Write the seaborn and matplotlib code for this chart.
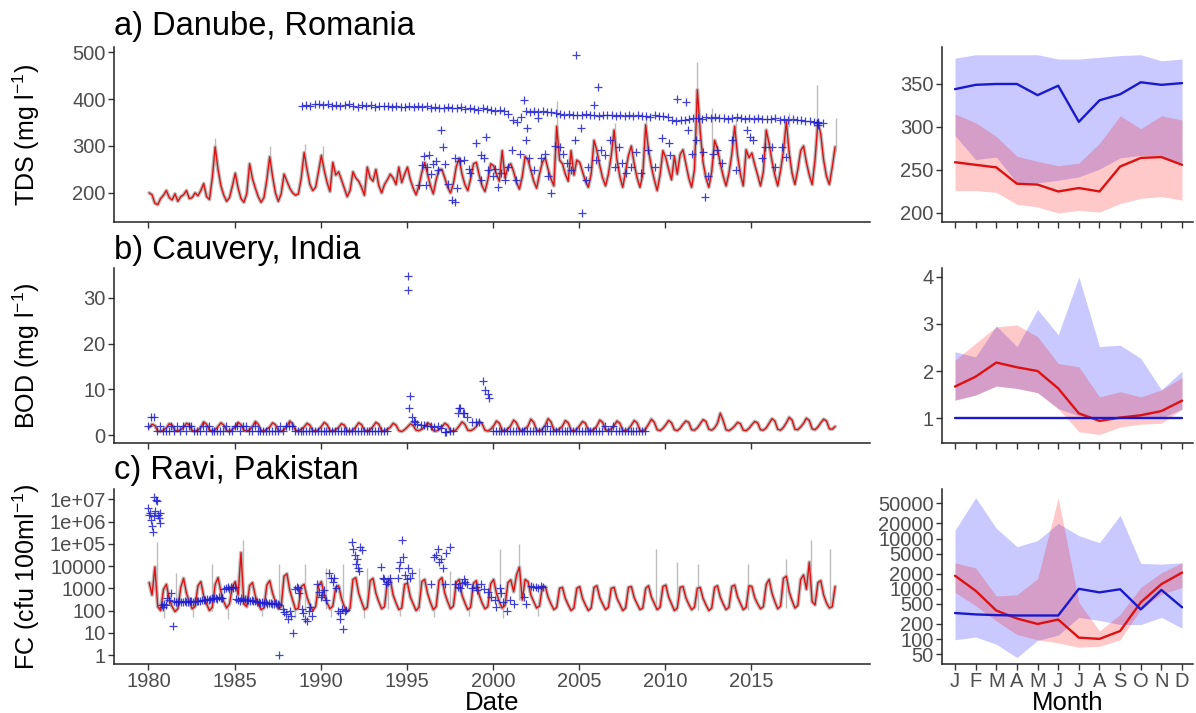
import numpy as np
import matplotlib
matplotlib.use("Agg")
import matplotlib.pyplot as plt
import seaborn as sns

# ------------------------------------------------------------------ data
YEARS = list(range(1980, 2020))
MONTH_SLOTS = [1, 3, 5, 7, 9, 11]          # six modelled values per year

# a) Danube TDS, modelled (mg/l)
tds_model = [
    200, 196, 178, 175, 188, 195,  205, 190, 185, 198, 182, 192,
    196, 205, 188, 190, 200, 194,  205, 220, 192, 186, 232, 298,
    250, 215, 195, 182, 190, 215,  242, 210, 188, 180, 198, 262,
    230, 210, 192, 180, 190, 228,  277, 235, 200, 182, 198, 240,
    225, 210, 200, 195, 198, 232,  286, 250, 218, 205, 212, 245,
    280, 248, 222, 203, 265, 238,  245, 228, 210, 192, 205, 245,
    232, 225, 212, 195, 255, 232,  225, 250, 216, 200, 218, 228,
    240, 232, 218, 255, 222, 240,  255, 228, 210, 196, 215, 244,
    265, 240, 215, 198, 228, 250,  250, 232, 212, 200, 220, 256,
    274, 240, 218, 205, 230, 262,  265, 238, 215, 203, 228, 262,
    258, 240, 225, 290, 232, 255,  262, 245, 222, 208, 235, 278,
    270, 248, 225, 210, 240, 265,  275, 250, 230, 215, 342, 270,
    262, 240, 225, 290, 238, 270,  265, 245, 225, 212, 240, 312,
    290, 258, 232, 215, 240, 280,  334, 270, 235, 212, 246, 280,
    300, 262, 232, 212, 240, 345,  290, 255, 228, 205, 238, 290,
    275, 250, 228, 278, 240, 282,  292, 262, 232, 212, 250, 420,
    330, 265, 232, 212, 245, 312,  295, 262, 236, 215, 242, 282,
    342, 280, 240, 215, 292, 275,  285, 260, 238, 215, 245, 334,
    305, 268, 238, 215, 248, 290,  352, 285, 242, 218, 250, 290,
    300, 265, 238, 218, 270, 352,  325, 270, 235, 218, 255, 298,
]
tds_spike_dates = [1983.85, 1987.05, 1989.1, 1990.15, 2003.7, 2007.1, 2008.9,
                   2011.88, 2012.7, 2014.1, 2017.2, 2018.8, 2019.9]
tds_spike_lo = [290, 270, 280, 275, 330, 325, 335, 410, 300, 330, 340, 345, 290]
tds_spike_hi = [318, 300, 305, 300, 395, 350, 365, 478, 380, 360, 370, 430, 360]

# observed TDS: regular (quarterly) series from 1988.9
tds_obs_start = 1988.9
tds_obs_regular = [
    386, 388, 385, 389,  390, 387, 389, 386,  388, 385, 387, 389,
    386, 384, 387, 385,  387, 384, 386, 385,  385, 383, 386, 384,
    384, 386, 383, 385,  383, 385, 382, 384,  382, 380, 383, 381,
    381, 383, 379, 380,  379, 377, 380, 378,  377, 375, 376, 374,
    368, 356, 352, 362,  374, 372, 375, 373,  374, 372, 373, 371,
    369, 367, 368, 366,  367, 365, 368, 366,  366, 364, 367, 365,
    366, 364, 365, 363,  365, 363, 366, 364,  364, 362, 365, 363,
    363, 361, 356, 354,  356, 355, 357, 359,  360, 358, 361, 359,
    361, 359, 360, 358,  360, 361, 359, 358,  360, 358, 359, 357,
    358, 357, 359, 356,  357, 355, 358, 356,  355, 353, 354, 352,
    351, 349,
]
# observed TDS: irregular samples
tds_obs_dates = [
    1995.7, 1995.9, 1996.0, 1996.1, 1996.2, 1996.3, 1996.5, 1996.7, 1996.8, 1997.0,
    1997.1, 1997.4, 1997.6, 1997.8, 1997.9, 1997.8, 1998.1, 1998.6, 1998.7, 1999.0,
    1999.3, 1999.5, 1999.6, 1999.3, 1999.7, 2000.1, 2000.3, 2000.5, 2000.7, 2000.9,
    2001.1, 2001.35, 2001.6, 2001.8, 2001.9, 2002.0, 2002.1, 2002.4, 2002.6, 2002.8,
    2003.0, 2003.2, 2003.4, 2003.9, 2004.1, 2004.3, 2004.55, 2004.75, 2004.85, 2005.1,
    2005.2, 2005.4, 2005.5, 2005.9, 2006.1, 2006.3, 2006.5, 2006.8, 2007.1, 2007.3,
    2007.5, 2007.75, 2008.0, 2008.3, 2008.6, 2009.0, 2009.4, 2009.8, 2010.2, 2010.3,
    2010.7, 2011.2, 2011.35, 2011.55, 2011.8, 2012.2, 2012.3, 2012.5, 2012.8, 2013.0,
    2013.3, 2013.9, 2014.1, 2014.75, 2014.95, 2015.1, 2015.6, 2015.8, 2016.2, 2016.4,
    2016.8, 2017.0, 2018.8, 2018.9, 1996.4, 1997.2, 1998.3, 2000.0, 2003.6, 2006.0,
]
tds_obs_vals = [
    216, 260, 278, 217, 256, 280, 262, 267, 249, 334,
    298, 220, 185, 274, 210, 181, 267, 252, 242, 306,
    280, 274, 320, 228, 249, 252, 213, 242, 228, 256,
    291, 228, 284, 397, 313, 338, 274, 249, 359, 274,
    284, 235, 199, 298, 284, 263, 249, 313, 494, 338,
    157, 228, 256, 387, 426, 291, 280, 313, 256, 298,
    263, 242, 256, 288, 242, 291, 256, 316, 306, 280,
    401, 394, 334, 284, 313, 288, 192, 235, 284, 291,
    263, 313, 249, 334, 320, 313, 274, 298, 298, 256,
    298, 277, 348, 345, 240, 262, 270, 235, 300, 270,
]

# b) Cauvery BOD, modelled (mg/l)
bod_model = [
    1.7, 2.4, 2.1, 0.9, 0.8, 1.1,  1.6, 2.5, 2.2, 1.0, 0.9, 1.2,
    1.8, 2.6, 2.3, 1.0, 0.9, 1.1,  1.7, 2.9, 2.4, 1.1, 0.9, 1.2,
    1.9, 2.7, 2.2, 1.0, 0.8, 1.3,  1.8, 2.8, 2.3, 1.1, 0.9, 1.2,
    1.9, 3.0, 2.4, 1.0, 0.9, 1.3,  1.8, 2.7, 2.3, 1.0, 0.8, 1.2,
    2.0, 3.1, 2.5, 1.1, 0.9, 1.3,  1.8, 2.6, 2.2, 1.0, 0.9, 1.2,
    1.9, 2.8, 2.3, 1.0, 0.9, 1.2,  1.7, 2.5, 2.2, 1.0, 0.8, 1.1,
    1.8, 2.7, 2.3, 1.1, 0.9, 1.2,  1.9, 2.8, 2.4, 1.0, 0.9, 1.3,
    1.7, 2.6, 2.2, 1.0, 0.8, 1.2,  1.8, 2.5, 2.1, 1.1, 1.0, 1.3,
    1.9, 2.7, 2.3, 1.0, 0.9, 1.2,  1.8, 2.6, 2.2, 1.0, 0.9, 1.2,
    2.0, 2.9, 2.4, 1.1, 1.0, 1.3,  1.9, 3.0, 2.5, 1.1, 0.9, 1.3,
    2.0, 3.1, 2.6, 1.1, 1.0, 1.4,  2.1, 3.3, 2.7, 1.2, 1.0, 1.4,
    2.0, 3.5, 2.8, 1.1, 1.0, 1.3,  2.2, 3.6, 2.9, 1.2, 1.0, 1.4,
    2.0, 3.2, 2.7, 1.1, 0.9, 1.3,  2.1, 3.0, 2.6, 1.1, 1.0, 1.3,
    2.0, 3.3, 2.8, 1.2, 1.0, 1.4,  2.1, 3.1, 2.6, 1.1, 1.0, 1.3,
    2.2, 3.2, 2.7, 1.1, 0.9, 1.4,  2.4, 3.5, 2.8, 1.2, 1.0, 1.5,
    2.3, 3.2, 2.7, 1.2, 1.0, 1.5,  2.4, 3.1, 2.8, 1.2, 1.1, 1.6,
    2.5, 3.4, 3.0, 1.3, 1.1, 1.6,  2.6, 4.8, 3.2, 1.2, 1.0, 1.4,
    2.0, 2.8, 2.5, 1.1, 1.0, 1.5,  2.3, 3.0, 2.7, 1.2, 1.1, 1.6,
    2.6, 3.6, 3.1, 1.3, 1.1, 1.7,  2.7, 3.9, 3.3, 1.3, 1.2, 1.8,
    2.6, 3.7, 3.2, 1.4, 1.2, 1.8,  2.7, 3.5, 3.1, 1.4, 1.3, 1.9,
]
# observed BOD, regular (6 per year) 1980-1993 and 2000-2008
bod_obs_early = [
    2, 4, 4, 1, 2, 1,  1, 1, 2, 1, 2, 1,  2, 1, 2, 2, 1, 1,  1, 2, 1, 2, 1, 1,
    1, 1, 1, 2, 1, 1,  2, 2, 1, 2, 2, 1,  1, 2, 1, 1, 1, 1,  1, 1, 1, 1, 2, 1,
    2, 2, 2, 1, 1, 1,  1, 1, 1, 1, 1, 1,  1, 1, 1, 1, 1, 1,  1, 1, 1, 1, 1, 1,
    1, 1, 1, 1, 1, 1,  1, 1, 1, 1, 1, 1,
]
bod_obs_late = [
    1, 1, 1, 1, 1, 1,  1, 1, 1, 1, 1, 1,  1, 1, 1, 1, 1, 1,  1, 2, 1, 1, 1, 1,
    1, 1, 1, 1, 1, 1,  1, 1, 1, 1, 1, 1,  1, 1, 1, 2, 1, 1,  2, 1, 1, 1, 1, 1,
    1, 1, 1, 1, 1, 1,
]
bod_obs_dates = [1995.05, 1995.1, 1995.2, 1995.15, 1995.3, 1995.4, 1995.5, 1995.6, 1995.8,
                 1996.0, 1996.2, 1996.4, 1996.6, 1996.8, 1997.0, 1997.2, 1997.3, 1997.5,
                 1997.7, 1997.95, 1998.05, 1998.1, 1998.25, 1998.35, 1998.5, 1998.8, 1999.0,
                 1999.2, 1999.45, 1999.53, 1999.7, 1999.8]
bod_obs_vals = [34.8, 31.8, 8.5, 5.9, 4.0, 3.2, 2.9, 2.5, 2.3,
                2.2, 2.0, 2.1, 1.9, 2.0, 1.5, 0.7, 0.6, 0.9,
                1.0, 4.8, 5.9, 5.9, 4.8, 4.8, 4.0, 2.9, 2.9,
                2.8, 11.8, 9.8, 9.1, 8.1]

# c) Ravi FC, modelled (cfu/100ml)
fc_model = [
    1800, 500, 9000, 150, 100, 900,   1500, 350, 150, 90, 120, 1100,
    2800, 600, 250, 120, 150, 1300,   2000, 450, 200, 100, 140, 1500,
    3000, 700, 250, 130, 200, 1200,   2000, 500, 40000, 200, 150, 1300,
    1800, 450, 200, 110, 130, 1400,   2200, 600, 250, 120, 150, 3500,
    4500, 800, 300, 110, 130, 1200,   1500, 400, 180, 100, 150, 1300,
    2000, 500, 220, 120, 160, 1100,   1300, 350, 150, 90, 130, 2500,
    3000, 600, 250, 110, 140, 2200,   2800, 600, 250, 120, 150, 2000,
    2500, 500, 220, 110, 130, 1500,   1700, 400, 200, 100, 140, 2000,
    2500, 600, 230, 110, 150, 2200,   3000, 600, 250, 120, 160, 1800,
    2500, 500, 220, 110, 140, 1700,   2200, 500, 220, 120, 150, 1600,
    2500, 600, 250, 130, 170, 1800,   2400, 700, 4000, 9000, 300, 2500,
    2000, 500, 250, 130, 160, 1200,   1200, 400, 200, 110, 140, 1000,
    1100, 350, 180, 100, 130, 1000,   1200, 350, 180, 100, 130, 1100,
    1300, 380, 200, 110, 140, 1000,   1100, 350, 190, 100, 130, 1100,
    1200, 380, 200, 110, 130, 1000,   1300, 400, 210, 110, 140, 1200,
    1400, 400, 200, 100, 130, 1100,   1200, 380, 190, 110, 140, 1000,
    1100, 350, 180, 100, 130, 1100,   1300, 400, 200, 110, 140, 1200,
    1400, 420, 210, 110, 140, 1300,   1200, 380, 200, 120, 150, 1500,
    2500, 600, 250, 120, 160, 2800,   3500, 700, 280, 130, 170, 2500,
    4000, 900, 15000, 250, 180, 1800,  2200, 500, 220, 130, 150, 1200,
]
fc_spike_dates = [1980.5, 1981.6, 1983.7, 1985.5, 1987.6, 1989.1, 1990.3, 1991.3,
                  1992.7, 1993.9, 1995.7, 1997.5, 2000.4, 2001.5, 2009.5, 2010.7,
                  2011.9, 2014.8, 2017.0, 2018.5, 2019.55]
fc_spike_lo = [150, 90, 100, 200, 120, 100, 120, 90, 110, 120, 100, 120, 130, 300,
               110, 100, 110, 110, 130, 250, 130]
fc_spike_hi = [1.2e5, 5000, 12000, 1.5e5, 12000, 12000, 8000, 12000, 8000, 4000,
               8000, 6000, 6e4, 1e5, 6e4, 15000, 12000, 12000, 20000, 1.5e5, 6e4]
fc_trough_dates = [1980.9, 1982.6, 1984.6, 1986.6, 1988.5, 1990.6, 1992.5, 1994.6,
                   1996.6, 1998.6, 2000.6, 2002.6]
fc_trough_lo = [45, 50, 40, 55, 45, 50, 45, 60, 50, 55, 45, 60]
fc_trough_hi = [150, 150, 130, 140, 130, 150, 140, 150, 140, 150, 150, 150]

# observed FC: regular band 1981.5-1987.5 (step 0.1 yr)
fc_band_start = 1981.5
fc_band = [
    260, 240, 250, 270, 245, 255, 260, 250, 240, 265, 270, 255, 260, 275, 280,
    270, 290, 300, 310, 330, 300, 340, 360, 350, 380, 340, 400, 370, 350,
    900, 1000, 1100, 950, 1200, 1000, 1100,
    320, 300, 280, 350, 300, 330, 290, 310, 280, 300, 260, 270, 250, 240, 230,
    250, 220, 240, 200, 210, 230, 200, 190, 220, 200, 180,
]
fc_obs_dates = [
    1980.0, 1980.05, 1980.1, 1980.15, 1980.2, 1980.25, 1980.3, 1980.35, 1980.4, 1980.45,
    1980.5, 1980.55, 1980.6, 1980.65, 1980.7,
    1980.8, 1980.85, 1980.9, 1981.0, 1981.1, 1981.2, 1981.3, 1981.4,
    1987.6, 1987.8, 1987.9, 1988.0, 1988.1, 1988.2, 1988.3, 1988.4, 1988.5, 1988.6,
    1988.7, 1988.75, 1988.9, 1989.0, 1989.1, 1989.2, 1989.3, 1989.4, 1989.5,
    1989.8, 1989.9, 1990.0, 1990.1, 1990.2, 1990.3, 1990.5, 1990.6, 1990.7, 1990.8, 1990.9,
    1991.0, 1991.1, 1991.15, 1991.25, 1991.3, 1991.4, 1991.5,
    1991.8, 1991.9, 1992.0, 1992.05, 1992.1, 1992.15, 1992.2, 1992.3, 1992.4,
    1993.5, 1993.6, 1993.7, 1993.8, 1993.9, 1994.0,
    1994.5, 1994.55, 1994.6, 1994.7, 1994.8, 1994.9, 1995.0, 1995.1, 1995.2, 1995.3,
    1996.4, 1996.6, 1996.7, 1996.8, 1996.9, 1997.0, 1997.1, 1997.2, 1997.3,
    1997.5, 1997.8, 1998.0, 1998.1, 1998.2, 1998.3, 1998.4, 1998.5,
    1998.8, 1999.0, 1999.1, 1999.3, 1999.5, 1999.7, 1999.9, 2000.1, 2000.2, 2000.4,
    2000.5, 2000.6, 2000.8, 2001.0, 2001.2, 2001.8, 2001.9,
    2002.2, 2002.35, 2002.5, 2002.65, 2002.8, 2002.9,
]
fc_obs_vals = [
    4e6, 2e6, 2.5e6, 1.2e6, 6e5, 3.5e5, 1.8e6, 1.2e7, 3e6, 9e6,
    8e6, 2e6, 1.5e6, 9e5, 2.5e6,
    180, 150, 200, 180, 350, 300, 600, 20,
    1, 120, 90, 70, 40, 100, 60, 10, 900, 1200,
    1000, 600, 120, 80, 40, 35, 100, 150, 60,
    1500, 700, 400, 500, 800, 300, 5000, 3000, 2000, 3000, 1000,
    100, 80, 40, 120, 15, 100, 110,
    1.2e5, 6e4, 3e4, 1.2e4, 2e4, 8000, 6000, 7e4, 5e4,
    9000, 3000, 2500, 1500, 2000, 2800,
    3000, 8000, 1.5e4, 1.5e5, 2.5e4, 4000, 2500, 8000, 3000, 5000,
    1500, 2.5e4, 3e4, 6e4, 1.5e4, 2e4, 8000, 1500, 4e4,
    7e4, 1500, 1200, 1000, 1800, 2500, 2000, 1500,
    1000, 1200, 800, 1500, 900, 700, 400, 300, 150, 1000,
    600, 250, 100, 300, 200, 400, 200,
    1300, 1100, 1200, 1000, 1300, 1100,
]

# monthly climatology (right-hand panels)
months = list(range(1, 13))
month_labels = ["J", "F", "M", "A", "M", "J", "J", "A", "S", "O", "N", "D"]

tds_obs_med = [344, 349, 350, 350, 337, 348, 306, 331, 338, 352, 349, 351]
tds_obs_hi = [380, 384, 384, 384, 384, 379, 379, 381, 383, 384, 377, 379]
tds_obs_lo = [290, 262, 265, 235, 235, 238, 242, 251, 264, 267, 266, 258]
tds_mod_med = [259, 256, 253, 234, 233, 225, 229, 225, 254, 264, 265, 256]
tds_mod_hi = [315, 305, 289, 266, 260, 255, 258, 281, 313, 298, 313, 308]
tds_mod_lo = [226, 226, 224, 210, 207, 200, 203, 201, 211, 217, 219, 215]

bod_obs_med = [1.0, 1.0, 1.0, 1.0, 1.0, 1.0, 1.0, 1.0, 1.0, 1.0, 1.0, 1.0]
bod_obs_hi = [2.41, 2.30, 2.96, 2.52, 3.31, 2.77, 4.00, 2.52, 2.55, 2.27, 1.60, 2.00]
bod_obs_lo = [1.38, 1.49, 1.68, 1.63, 1.54, 1.20, 1.05, 1.00, 1.00, 1.00, 1.00, 1.19]
bod_mod_med = [1.67, 1.88, 2.18, 2.08, 2.00, 1.63, 1.10, 0.94, 1.01, 1.06, 1.15, 1.37]
bod_mod_hi = [2.23, 2.59, 2.94, 2.98, 2.73, 2.16, 2.09, 1.45, 1.56, 1.45, 1.60, 1.86]
bod_mod_lo = [1.38, 1.49, 1.68, 1.63, 1.54, 1.20, 0.71, 0.65, 0.81, 0.87, 0.89, 1.19]

fc_obs_med = [330, 310, 300, 295, 295, 295, 1000, 850, 980, 390, 950, 430]
fc_obs_hi = [14500, 65000, 16000, 6900, 9100, 20000, 11400, 8300, 29000, 3200, 3100, 3300]
fc_obs_lo = [97, 110, 79, 43, 94, 120, 270, 235, 195, 195, 270, 165]
fc_mod_med = [1820, 915, 370, 257, 200, 245, 107, 101, 145, 540, 1240, 2100]
fc_mod_hi = [3300, 2600, 720, 760, 1600, 65000, 540, 145, 310, 1070, 2100, 3300]
fc_mod_lo = [850, 460, 230, 123, 97, 84, 69, 72, 97, 390, 780, 1060]

titles = ["a) Danube, Romania", "b) Cauvery, India", "c) Ravi, Pakistan"]
ylabels = [r"TDS (mg l$^{-1}$)", r"BOD (mg l$^{-1}$)", r"FC (cfu 100ml$^{-1}$)"]

# ------------------------------------------------------------------ style
sns.set_theme(style="ticks")
plt.rcParams["font.family"] = ["Liberation Sans", "DejaVu Sans"]
plt.rcParams["mathtext.default"] = "regular"

RED = "#dd1111"
BLUE = "#1a1acc"
GREY = "#bdbdbd"
OBS_COL = "#1f1fd0"
TICK_COL = "#4d4d4d"
TICK_FS = 14.5

model_dates = np.array([y + (m - 0.5) / 12 for y in YEARS for m in MONTH_SLOTS])

fig = plt.figure(figsize=(11.96, 7.13), dpi=100)
W, H = 1196, 713
bottoms = [1 - 222 / H, 1 - 443 / H, 1 - 664 / H]
ax_h = 175 / H
left_axes = [fig.add_axes([114 / W, b, 756 / W, ax_h]) for b in bottoms]
right_axes = [fig.add_axes([942 / W, b, 251 / W, ax_h]) for b in bottoms]


def style_axis(ax, show_xlabels):
    for s in ["top", "right"]:
        ax.spines[s].set_visible(False)
    for s in ["left", "bottom"]:
        ax.spines[s].set_linewidth(1.1)
        ax.spines[s].set_color("#222222")
    ax.tick_params(axis="both", which="major", length=4, width=1,
                   color="#333333", labelsize=TICK_FS, labelcolor=TICK_COL, pad=2)
    ax.tick_params(axis="both", which="minor", length=0)
    if not show_xlabels:
        ax.tick_params(axis="x", labelbottom=False)
    ax.grid(False)


def draw_timeseries(ax, model, spikes, obs_sets, log=False):
    if log:
        ax.set_yscale("log")
    for d, lo, hi in spikes:
        ax.vlines(d, lo, hi, color=GREY, linewidth=1.0, zorder=1)
    sns.lineplot(x=model_dates, y=model, ax=ax, color=GREY, linewidth=2.8,
                 estimator=None, sort=False, zorder=2)
    sns.lineplot(x=model_dates, y=model, ax=ax, color=RED, linewidth=1.0,
                 estimator=None, sort=False, zorder=3)
    for dx, vy in obs_sets:
        sns.scatterplot(x=dx, y=vy, ax=ax, marker="+", s=26, color=OBS_COL,
                        linewidth=0.9, alpha=0.85, legend=False, zorder=4)
    ax.set_xlim(1978.0, 2021.9)
    ax.set_xticks([1980, 1985, 1990, 1995, 2000, 2005, 2010, 2015])


def draw_climatology(ax, obs_med, obs_lo, obs_hi, mod_med, mod_lo, mod_hi, log=False):
    if log:
        ax.set_yscale("log")
    ax.fill_between(months, obs_lo, obs_hi, color="#0000ff", alpha=0.21,
                    linewidth=0, zorder=1)
    ax.fill_between(months, mod_lo, mod_hi, color="#ff0000", alpha=0.21,
                    linewidth=0, zorder=2)
    sns.lineplot(x=months, y=mod_med, ax=ax, color=RED, linewidth=1.7,
                 estimator=None, sort=False, zorder=3)
    sns.lineplot(x=months, y=obs_med, ax=ax, color=BLUE, linewidth=1.7,
                 estimator=None, sort=False, zorder=4)
    ax.set_xlim(0.37, 12.53)
    ax.set_xticks(months)
    ax.set_xticklabels(month_labels)


# ---- a) TDS
ax = left_axes[0]
tds_obs_reg_dates = tds_obs_start + 0.25 * np.arange(len(tds_obs_regular))
draw_timeseries(ax, tds_model,
                zip(tds_spike_dates, tds_spike_lo, tds_spike_hi),
                [(tds_obs_reg_dates, tds_obs_regular), (tds_obs_dates, tds_obs_vals)])
ax.set_ylim(138, 511)
ax.set_yticks([200, 300, 400, 500])

# ---- b) BOD
ax = left_axes[1]
bod_early_dates = 1980.0 + np.arange(len(bod_obs_early)) / 6
bod_late_dates = 2000.0 + np.arange(len(bod_obs_late)) / 6
draw_timeseries(ax, bod_model, [],
                [(bod_early_dates, bod_obs_early), (bod_late_dates, bod_obs_late),
                 (bod_obs_dates, bod_obs_vals)])
ax.set_ylim(-1.7, 36.5)
ax.set_yticks([0, 10, 20, 30])

# ---- c) FC
ax = left_axes[2]
fc_band_dates = fc_band_start + 0.1 * np.arange(len(fc_band))
spk = list(zip(fc_spike_dates, fc_spike_lo, fc_spike_hi)) + \
    list(zip(fc_trough_dates, fc_trough_lo, fc_trough_hi))
draw_timeseries(ax, fc_model, spk,
                [(fc_band_dates, fc_band), (fc_obs_dates, fc_obs_vals)], log=True)
ax.set_ylim(10 ** -0.40, 10 ** 7.46)
fc_ticks = [1, 10, 100, 1000, 10000, 1e5, 1e6, 1e7]
ax.set_yticks(fc_ticks)
ax.set_yticklabels(["1", "10", "100", "1000", "10000", "1e+05", "1e+06", "1e+07"])

# ---- right panels
draw_climatology(right_axes[0], tds_obs_med, tds_obs_lo, tds_obs_hi,
                 tds_mod_med, tds_mod_lo, tds_mod_hi)
right_axes[0].set_ylim(189.5, 393)
right_axes[0].set_yticks([200, 250, 300, 350])

draw_climatology(right_axes[1], bod_obs_med, bod_obs_lo, bod_obs_hi,
                 bod_mod_med, bod_mod_lo, bod_mod_hi)
right_axes[1].set_ylim(0.47, 4.19)
right_axes[1].set_yticks([1, 2, 3, 4])

draw_climatology(right_axes[2], fc_obs_med, fc_obs_lo, fc_obs_hi,
                 fc_mod_med, fc_mod_lo, fc_mod_hi, log=True)
right_axes[2].set_ylim(32, 96600)
rticks = [50, 100, 200, 500, 1000, 2000, 5000, 10000, 20000, 50000]
right_axes[2].set_yticks(rticks)
right_axes[2].set_yticklabels([str(t) for t in rticks])

for i, ax in enumerate(left_axes):
    style_axis(ax, show_xlabels=(i == 2))
    ax.set_ylabel(ylabels[i], fontsize=18, color="black")
    ax.yaxis.set_label_coords(-0.095, 0.5)
    ax.set_xlabel("")
for i, ax in enumerate(right_axes):
    style_axis(ax, show_xlabels=(i == 2))
    ax.set_ylabel("")
    ax.set_xlabel("")

left_axes[2].set_xlabel("Date", fontsize=18.5, color="black", labelpad=0)
right_axes[2].set_xlabel("Month", fontsize=18.5, color="black", labelpad=0)

title_y = [35 / H, 259 / H, 479 / H]
for t, ty in zip(titles, title_y):
    fig.text(114 / W, 1 - ty, t, fontsize=23.5, color="black", va="baseline", ha="left")

fig.savefig("out.png", dpi=100)
